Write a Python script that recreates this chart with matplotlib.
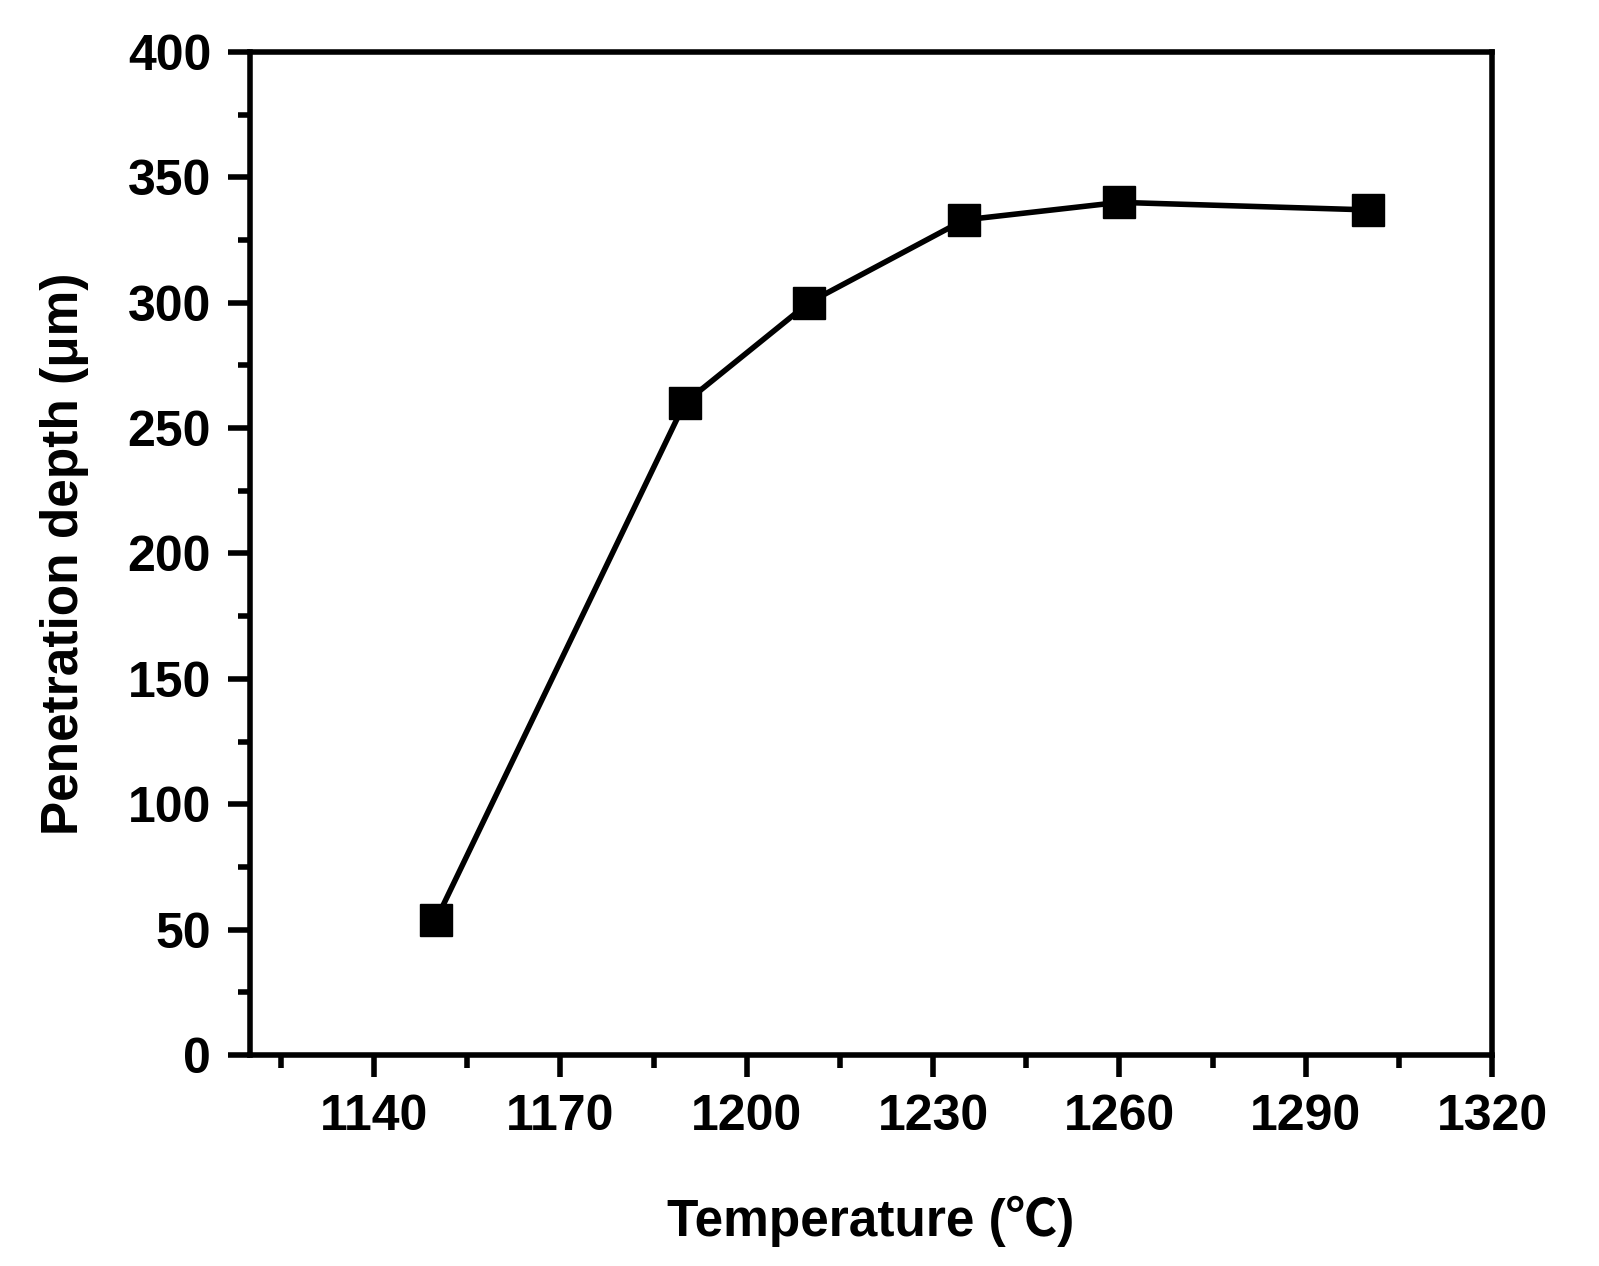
import matplotlib
matplotlib.use('Agg')
import matplotlib.pyplot as plt
from matplotlib.ticker import MultipleLocator

# data
temperature = [1150, 1190, 1210, 1235, 1260, 1300]
depth = [54, 260, 300, 333, 340, 337]

plt.rcParams['font.family'] = ['Liberation Sans', 'Noto Sans CJK SC', 'DejaVu Sans']
plt.rcParams['font.weight'] = 'bold'

fig = plt.figure(figsize=(15.99, 12.66), dpi=100)
ax = fig.add_axes([0.1563, 0.1667, 0.9331 - 0.1563, 0.959 - 0.1667])

ax.plot(temperature, depth, color='black', lw=4, marker='s', markersize=23,
        markerfacecolor='black', markeredgecolor='black')

ax.set_xlim(1120, 1320)
ax.set_ylim(0, 400)
ax.xaxis.set_major_locator(MultipleLocator(30))
ax.xaxis.set_minor_locator(MultipleLocator(15))
ax.yaxis.set_major_locator(MultipleLocator(50))
ax.yaxis.set_minor_locator(MultipleLocator(25))
ax.set_xticks(range(1140, 1321, 30))

for s in ax.spines.values():
    s.set_linewidth(4)
ax.tick_params(which='major', direction='out', length=16, width=4,
               labelsize=36, pad=12, top=False, right=False)
ax.tick_params(which='minor', direction='out', length=9, width=4,
               top=False, right=False)
for lab in ax.get_xticklabels() + ax.get_yticklabels():
    lab.set_fontweight('bold')

ax.set_xlabel('Temperature (\u2103)', fontsize=37, fontweight='bold', labelpad=40)
ax.set_ylabel('Penetration depth (\u03bcm)', fontsize=37, fontweight='bold', labelpad=28)

plt.savefig('out.png', dpi=100)
plt.close()
